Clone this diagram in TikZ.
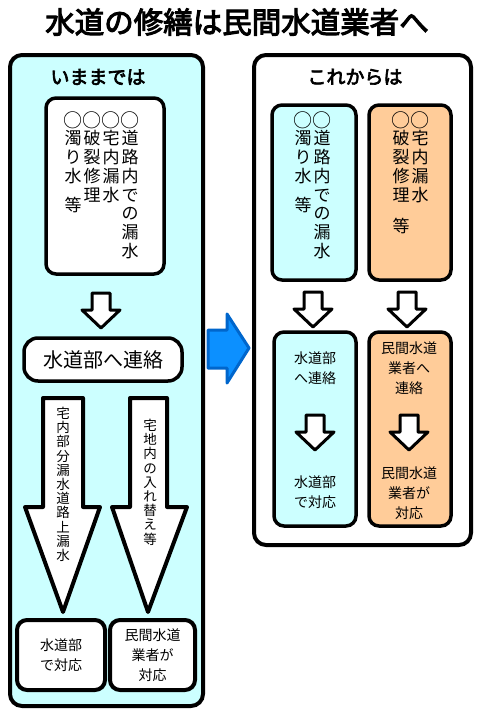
\documentclass[tikz,border=0pt]{standalone}
\usepackage{fontspec}
\setmainfont{Noto Sans CJK JP}
\newfontfamily\heavyfont{Noto Sans CJK JP}[FakeBold=3.5]
\usetikzlibrary{calc}

\definecolor{paleblue}{HTML}{CCFFFF}
\definecolor{paleorange}{HTML}{FFCC99}
\definecolor{arrowblue}{HTML}{0C90FF}
\definecolor{arrowedge}{HTML}{0066CC}

\tikzset{
 panel/.style={draw, line width=4pt, rounded corners=12pt},
 box/.style={draw, line width=3.5pt, rounded corners=10pt, fill=white, inner sep=0pt},
 tate/.style={anchor=north, align=center, inner sep=0pt, font=\fontsize{17}{18.75}\selectfont},
 tatesmall/.style={anchor=north, align=center, inner sep=0pt, font=\fontsize{13.5}{14.2}\selectfont},
 label/.style={align=center, inner sep=0pt, font=\fontsize{14}{20}\selectfont},
 heading/.style={inner sep=0pt, font=\heavyfont\fontsize{19}{20}\selectfont},
 hollow/.style={draw, line width=3pt, fill=white, line join=round},
}

% full size circle for the vertical columns
\newcommand{\maru}{\makebox[0pt]{\raisebox{-1pt}{\scalebox{1.12}{○}}}\vphantom{水}}
% hollow down arrow, #1 = top centre
\newcommand{\hollowdown}[1]{\draw[hollow] (#1) ++(-9,0) -- ++(18,0) -- ++(0,17) -- ++(10,0) -- ++(-19,18) -- ++(-19,-18) -- ++(10,0) -- cycle;}

\begin{document}
\begin{tikzpicture}[x=1pt, y=-1pt]
 \useasboundingbox (0,0) rectangle (480,720);
 \node[inner sep=0pt, font=\heavyfont\fontsize{29.5}{30}\selectfont] (title) at (237,22) {水道の修繕は民間水道業者へ};

 % いままでは
 \draw[panel, fill=paleblue] (10,55) rectangle (203,706);
 \node[heading] (before) at (98,77) {いままでは};
 \node[box, minimum width=118, minimum height=176] (oldcases) at (105,186) {};
 \node[tate] (oc1) at (130,111) {\maru\\道\\路\\内\\で\\の\\漏\\水};
 \node[tate] (oc2) at (111,111) {\maru\\宅\\内\\漏\\水};
 \node[tate] (oc3) at (92,111) {\maru\\破\\裂\\修\\理};
 \node[tate] (oc4) at (73,111) {\maru\\濁\\り\\水\\[10pt]等};
 \coordinate (oa) at (101,293);
 \hollowdown{oa}
 \node[box, rounded corners=14pt, minimum width=158, minimum height=43, font=\fontsize{20}{22}\selectfont] (oldcall) at (103,359.5) {水道部へ連絡};

 \draw[line width=4pt, fill=white, line join=round] (43,398) -- (83,398) -- (83,507) -- (100,507) -- (63,612) -- (25,507) -- (43,507) -- cycle;
 \draw[line width=4pt, fill=white, line join=round] (130,398) -- (167,398) -- (167,507) -- (187,507) -- (148,612) -- (112,507) -- (130,507) -- cycle;
 \node[tatesmall] (leftroute) at (63,407) {宅\\内\\部\\分\\漏\\水\\道\\路\\上\\漏\\水};
 \node[tatesmall] (rightroute) at (150,419) {宅\\地\\内\\の\\入\\れ\\替\\え\\等};

 \node[box, line width=4pt, minimum width=88, minimum height=70, label] (oldcity) at (61,655) {水道部\\で対応};
 \node[box, line width=4pt, minimum width=85, minimum height=70, label] (oldprivate) at (152.5,655) {民間水道\\業者が\\対応};

 % 青い矢印
 \draw[fill=arrowblue, draw=arrowedge, line width=3pt, line join=round] (208,330) -- (227,330) -- (227,314) -- (249,348) -- (227,383) -- (227,368) -- (208,368) -- cycle;

 % これからは
 \draw[panel, fill=white] (254,55) rectangle (471,545);
 \node[heading] (after) at (355,77) {これからは};
 \node[box, fill=paleblue, minimum width=84, minimum height=175] (citycases) at (314,192.5) {};
 \node[tate] (cc1) at (322,111) {\maru\\道\\路\\内\\で\\の\\漏\\水};
 \node[tate] (cc2) at (303,111) {\maru\\濁\\り\\水\\[10pt]等};
 \node[box, fill=paleorange, minimum width=82, minimum height=175] (privcases) at (410,192.5) {};
 \node[tate] (pc1) at (420,111) {\maru\\宅\\内\\漏\\水};
 \node[tate] (pc2) at (401,111) {\maru\\破\\裂\\修\\理\\[13pt]等};

 \coordinate (ca) at (313,292);
 \coordinate (pa) at (407,292);
 \hollowdown{ca}
 \hollowdown{pa}

 \node[box, fill=paleblue, minimum width=82, minimum height=194] (cityflow) at (315,429) {};
 \node[box, fill=paleorange, minimum width=82, minimum height=194] (privflow) at (410,429) {};
 \node[label] (citycall) at (315,368) {水道部\\へ連絡};
 \node[label] (cityfix) at (315,492) {水道部\\で対応};
 \node[label] (privcall) at (409,368) {民間水道\\業者へ\\連絡};
 \node[label] (privfix) at (409,493) {民間水道\\業者が\\対応};
 \coordinate (cb) at (315,415);
 \coordinate (pb) at (409,415);
 \hollowdown{cb}
 \hollowdown{pb}
\end{tikzpicture}
\end{document}
